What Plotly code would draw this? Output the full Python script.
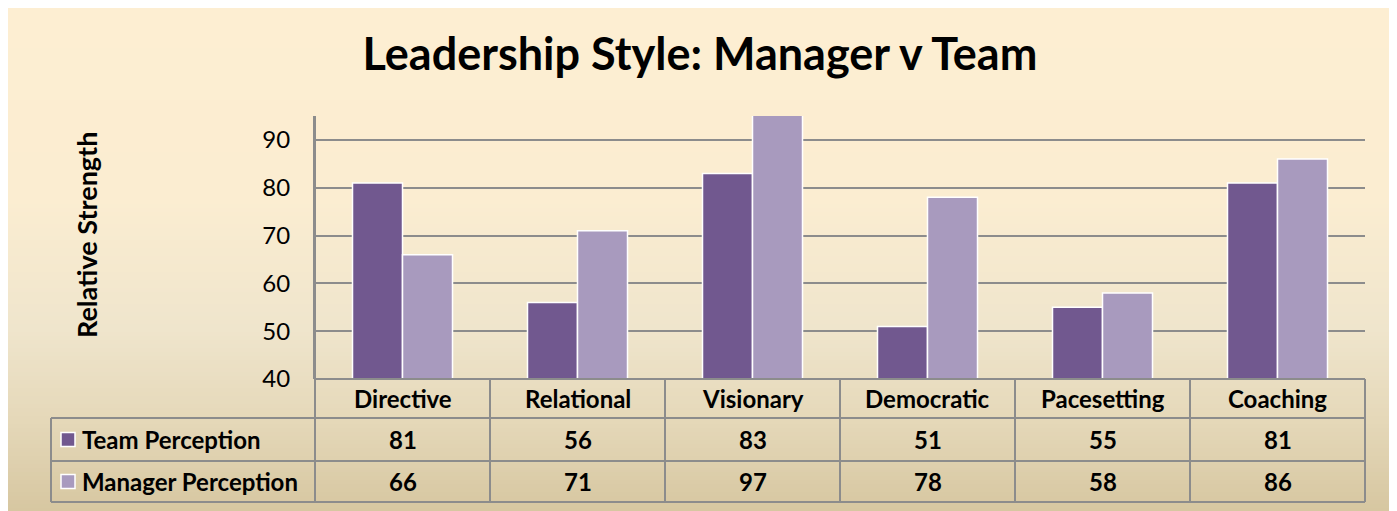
import plotly.graph_objects as go

# ---------------- data ----------------
categories = ["Directive", "Relational", "Visionary", "Democratic", "Pacesetting", "Coaching"]
team_perception = [81, 56, 83, 51, 55, 81]
manager_perception = [66, 71, 97, 78, 58, 86]
series_names = ["Team Perception", "Manager Perception"]
y_ticks = [40, 50, 60, 70, 80, 90]

# ---------------- style ----------------
OFF = 8                                   # page body margin in the browser
W, H = 1397 - OFF, 511 - OFF
PL, PR, PT, PB = 315, 1365, 116, 379      # plot area in window pixels
FONT = "Lato"
TEAM_COLOR = "#71588f"
MGR_COLOR = "#a89abe"
GRID = "#8c8c8c"

fig_l, fig_r, fig_t, fig_b = PL - OFF, W - (PR - OFF), PT - OFF, H - (PB - OFF)


def px(x):
    return (x - PL) / (PR - PL)


def py(y):
    return (PB - y) / (PB - PT)


fig = go.Figure()
for name, vals, col in [(series_names[0], team_perception, TEAM_COLOR),
                        (series_names[1], manager_perception, MGR_COLOR)]:
    fig.add_trace(go.Bar(
        x=categories, y=vals, name=name,
        marker=dict(color=col, line=dict(color="white", width=1.5)),
        hoverinfo="x+y+name",
    ))

shapes = []

# gradient background of the chart frame (stripes)
stops = [(0, (253, 238, 210)), (200, (251, 237, 209)), (330, (239, 229, 204)),
         (420, (229, 216, 185)), (520, (213, 197, 158))]


def col_at(y):
    for (y0, c0), (y1, c1) in zip(stops[:-1], stops[1:]):
        if y0 <= y <= y1:
            t = (y - y0) / (y1 - y0)
            return tuple(round(a + (b - a) * t) for a, b in zip(c0, c1))
    return stops[-1][1]


FX0, FX1, FY0, FY1 = OFF, 1393, OFF, 511
step = 4
y = FY0
while y < FY1:
    y2 = min(y + step, FY1)
    c = col_at((y + y2) / 2)
    shapes.append(dict(type="rect", xref="paper", yref="paper", layer="below",
                       x0=px(FX0), x1=px(FX1), y0=py(y2 + 0.5), y1=py(y),
                       fillcolor="rgb(%d,%d,%d)" % c, line=dict(width=0)))
    y = y2
shapes.append(dict(type="line", xref="paper", yref="paper", layer="below",
                   x0=px(FX1), x1=px(FX1), y0=py(FY1), y1=py(FY0),
                   line=dict(color="#cfc3a3", width=1.5)))

# data table lines
TL = 51
rows = [379, 418, 461, 502]
lw = 2
shapes.append(dict(type="line", xref="paper", yref="paper", x0=px(PL), x1=px(PR),
                   y0=py(rows[0]), y1=py(rows[0]), line=dict(color=GRID, width=lw)))
for r in rows[1:]:
    shapes.append(dict(type="line", xref="paper", yref="paper", x0=px(TL), x1=px(PR),
                       y0=py(r), y1=py(r), line=dict(color=GRID, width=lw)))
shapes.append(dict(type="line", xref="paper", yref="paper", x0=px(TL), x1=px(TL),
                   y0=py(rows[1]), y1=py(rows[3]), line=dict(color=GRID, width=lw)))
shapes.append(dict(type="line", xref="paper", yref="paper", x0=0, x1=0,
                   y0=py(rows[3]), y1=1, line=dict(color=GRID, width=lw)))
for i in range(1, len(categories) + 1):
    xp = i / len(categories)
    shapes.append(dict(type="line", xref="paper", yref="paper", x0=xp, x1=xp,
                       y0=py(rows[3]), y1=py(rows[0]), line=dict(color=GRID, width=lw)))

annotations = []
TFS = 24
for i, cat in enumerate(categories):
    annotations.append(dict(x=cat, xref="x", y=py((rows[0] + rows[1]) / 2), yref="paper",
                            xanchor="center", yanchor="middle",
                            text="<b>%s</b>" % cat, showarrow=False,
                            font=dict(family=FONT, size=TFS, color="black")))
    for r, vals in enumerate([team_perception, manager_perception]):
        annotations.append(dict(x=cat, xref="x", y=py((rows[r + 1] + rows[r + 2]) / 2), yref="paper",
                                xanchor="center", yanchor="middle",
                                text="<b>%d</b>" % vals[i], showarrow=False,
                                font=dict(family=FONT, size=TFS, color="black")))
for r, (name, col) in enumerate(zip(series_names, [TEAM_COLOR, MGR_COLOR])):
    yc = (rows[r + 1] + rows[r + 2]) / 2
    shapes.append(dict(type="rect", xref="paper", yref="paper",
                       x0=px(61), x1=px(75), y0=py(yc + 7), y1=py(yc - 7),
                       fillcolor=col, line=dict(color="white", width=1.5)))
    annotations.append(dict(x=px(80), xref="paper", xanchor="left", y=py(yc), yref="paper",
                            yanchor="middle",
                            text="<b>%s</b>" % name, showarrow=False,
                            font=dict(family=FONT, size=TFS, color="black")))
annotations.append(dict(x=px(86), xref="paper", y=py(235), yref="paper", textangle=-90,
                        xanchor="center", yanchor="middle",
                        text="<b>Relative Strength</b>", showarrow=False,
                        font=dict(family=FONT, size=27, color="black")))

fig.update_layout(
    width=W, height=H,
    margin=dict(l=fig_l, r=fig_r, t=fig_t, b=fig_b, pad=0),
    paper_bgcolor="#ffffff",
    plot_bgcolor="rgba(0,0,0,0)",
    barmode="group", bargap=1 - 100 / 175, bargroupgap=0,
    showlegend=False,
    title=dict(text="<b>Leadership Style: Manager v Team</b>", x=(700 - OFF) / W, xref="container",
               xanchor="center", y=1 - (54 - OFF) / H, yref="container", yanchor="middle",
               font=dict(family=FONT, size=45, color="black")),
    xaxis=dict(showticklabels=False, showgrid=False, zeroline=False, showline=False,
               ticks=""),
    yaxis=dict(range=[40, 95], tickvals=y_ticks, showgrid=True, gridcolor=GRID, gridwidth=2,
               zeroline=False, showline=True, linecolor=GRID, linewidth=2,
               ticks="outside", ticklen=18, tickcolor="rgba(0,0,0,0)",
               tickfont=dict(family=FONT, size=24, color="black")),
    shapes=shapes,
    annotations=annotations,
)

fig.write_html("out.html")
